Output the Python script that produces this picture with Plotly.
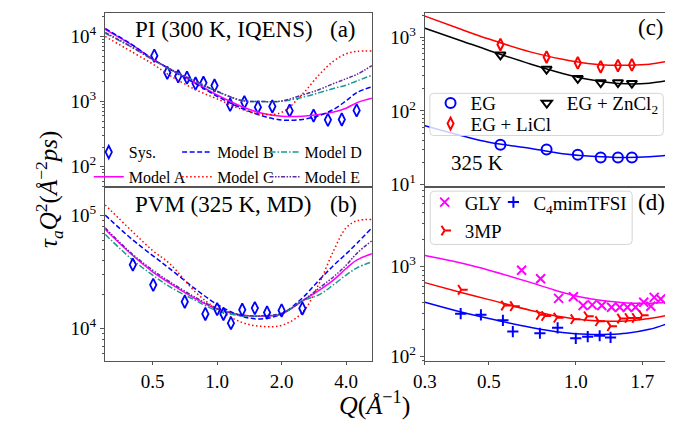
import math
import plotly.graph_objects as go

FONT = "Liberation Serif"
W, H = 673, 422

# ---------------- data ----------------
# (a) PI, 300 K, IQENS
q_sys_pi = [0.509, 0.585, 0.658, 0.723, 0.793, 0.863, 0.972, 1.15, 1.34, 1.55, 1.81, 2.18, 2.82, 3.29, 3.82, 4.48]
tau_sys_pi = [5060, 2770, 2440, 2330, 1890, 1940, 1760, 890, 975, 820, 840, 725, 608, 523, 530, 731]

q_model = [0.3, 0.4, 0.5, 0.6, 0.8, 1.0, 1.3, 1.6, 2.0, 2.5, 3.0, 3.5, 4.0, 4.5, 5.28]
pi_model_a = [12800, 7400, 4500, 3180, 1890, 1260, 840, 667, 594, 594, 630, 690, 790, 960, 1120]
pi_model_b = [13300, 7500, 4500, 3150, 1850, 1200, 790, 610, 520, 530, 610, 760, 1025, 1380, 1680]
pi_model_c = [10000, 5800, 3780, 2530, 1500, 1100, 760, 640, 680, 1300, 2600, 4200, 5400, 5900, 6000]
pi_model_d = [11200, 6800, 4400, 3150, 2000, 1420, 1035, 1000, 1010, 1160, 1370, 1590, 1780, 2080, 2530]
pi_model_e = [11500, 6900, 4450, 3200, 2020, 1440, 1040, 1000, 1020, 1260, 1530, 1890, 2240, 2620, 3570]

# (b) PVM, 325 K, MD
q_sys_pvm = [0.404, 0.503, 0.706, 0.881, 1.0, 1.07, 1.16, 1.31, 1.50, 1.71, 2.0, 2.5]
tau_sys_pvm = [36800, 24400, 17300, 13500, 14900, 13500, 11200, 14700, 15200, 13900, 14500, 15100]

pvm_model_a = [75300, 45000, 31800, 25300, 18200, 14900, 13200, 12900, 13500, 17600, 21900, 27000, 34000, 40500, 46000]
pvm_model_b = [101000, 61700, 44300, 34000, 22100, 16400, 12900, 12200, 13500, 18700, 27000, 36300, 45800, 57000, 78000]
pvm_model_c = [124000, 72800, 49000, 37600, 20700, 14900, 11400, 10500, 10700, 13900, 25300, 49000, 77800, 90000, 92000]
pvm_model_d = [68200, 41000, 29800, 23500, 17600, 14400, 13000, 12900, 13500, 17600, 20000, 24500, 29800, 34500, 38900]
pvm_model_e = [77800, 46000, 32900, 26000, 18700, 15100, 13200, 13000, 13700, 17600, 22900, 28800, 36300, 46500, 59800]

# (c) EG systems, 325 K
q_eg = [0.548, 0.792, 1.016, 1.22, 1.40, 1.565]
tau_eg = [34.9, 29.9, 25.4, 23.4, 23.4, 23.4]
tau_eg_zncl2 = [581, 371, 278, 244, 244, 239]
tau_eg_licl = [800, 541, 450, 398, 414, 423]

q_fit = [0.3, 0.4, 0.5, 0.7, 0.9, 1.1, 1.3, 1.5, 1.8, 2.08]
fit_eg = [63, 46.4, 37.6, 30.9, 26.3, 24.5, 23.7, 23.3, 23.9, 25.1]
fit_eg_zncl2 = [1330, 903, 665, 432, 324, 270, 244, 234, 239, 259]
fit_eg_licl = [1947, 1290, 949, 631, 504, 441, 419, 419, 432, 474]

# (d) GLY, C4mimTFSI, 3MP
q_gly = [0.649, 0.755, 0.872, 0.981, 1.06, 1.14, 1.23, 1.33, 1.42, 1.51, 1.61, 1.72, 1.82, 1.87, 1.97]
tau_gly = [904, 728, 440, 459, 366, 372, 366, 351, 351, 351, 351, 398, 360, 451, 433]
q_tfsi = [0.399, 0.469, 0.559, 0.605, 0.751, 0.865, 1.0, 1.10, 1.21, 1.32]
tau_tfsi = [297, 289, 251, 188, 180, 207, 158, 165, 169, 162]
q_3mp = [0.401, 0.566, 0.608, 0.749, 0.781, 0.861, 0.986, 1.096, 1.20, 1.32, 1.43, 1.52, 1.61, 1.70]
tau_3mp = [548, 366, 360, 289, 280, 268, 258, 278, 245, 216, 262, 266, 266, 285]

fit_gly = [1318, 1087, 904, 658, 512, 440, 408, 391, 389, 398]
fit_3mp = [658, 512, 426, 323, 273, 251, 245, 247, 262, 285]
fit_tfsi = [398, 310, 262, 209, 184, 175, 175, 180, 199, 231]

left_xticks = [0.5, 1.0, 2.0, 4.0]
left_xticklabels = ["0.5", "1.0", "2.0", "4.0"]
right_xticks = [0.3, 0.5, 1.0, 1.7]
right_xticklabels = ["0.3", "0.5", "1.0", "1.7"]

# ---------------- helpers ----------------
def px(x):
    return x / W

def py(y):
    return 1 - y / H

BLUE, RED, MAG, BLACK = "#0000ff", "#ff0000", "#ff00ff", "#000000"
TEAL, PURPLE = "#1a9a8a", "#5b2a9e"

fig = go.Figure()

models = [
    ("Model A", MAG, "solid", pi_model_a, pvm_model_a, "legend4"),
    ("Model B", BLUE, "5px,2.5px", pi_model_b, pvm_model_b, "legend2"),
    ("Model C", RED, "1.5px,2.5px", pi_model_c, pvm_model_c, "legend5"),
    ("Model D", TEAL, "6px,2px,1.5px,2px", pi_model_d, pvm_model_d, "legend3"),
    ("Model E", PURPLE, "4px,1.5px,1.5px,1.5px,1.5px,1.5px", pi_model_e, pvm_model_e, "legend6"),
]

fig.add_trace(go.Scatter(x=q_sys_pi, y=tau_sys_pi, mode="markers", name="Sys.",
                         marker=dict(symbol="diamond-tall-open", size=9, color=BLUE, line=dict(width=1.8, color=BLUE)),
                         xaxis="x", yaxis="y", legend="legend"))
for name, col, dash, ya, yb, lg in models:
    fig.add_trace(go.Scatter(x=q_model, y=ya, mode="lines", name=name, line=dict(color=col, dash=dash, width=1.5, shape="spline"),
                             xaxis="x", yaxis="y", legend=lg))
for name, col, dash, ya, yb, lg in models:
    fig.add_trace(go.Scatter(x=q_model, y=yb, mode="lines", name=name, showlegend=False,
                             line=dict(color=col, dash=dash, width=1.5, shape="spline"), xaxis="x2", yaxis="y2"))
fig.add_trace(go.Scatter(x=q_sys_pvm, y=tau_sys_pvm, mode="markers", name="Sys.", showlegend=False,
                         marker=dict(symbol="diamond-tall-open", size=9, color=BLUE, line=dict(width=1.8, color=BLUE)),
                         xaxis="x2", yaxis="y2"))

# (c)
for yv, col in [(fit_eg, BLUE), (fit_eg_zncl2, BLACK), (fit_eg_licl, RED)]:
    fig.add_trace(go.Scatter(x=q_fit, y=yv, mode="lines", showlegend=False, line=dict(color=col, width=1.5, shape="spline"),
                             xaxis="x3", yaxis="y3"))
fig.add_trace(go.Scatter(x=q_eg, y=tau_eg, mode="markers", name="EG",
                         marker=dict(symbol="circle-open", size=10, color=BLUE, line=dict(width=2, color=BLUE)),
                         xaxis="x3", yaxis="y3", legend="legend7"))
fig.add_trace(go.Scatter(x=q_eg, y=tau_eg_zncl2, mode="markers", name="EG + ZnCl<sub>2</sub>",
                         marker=dict(symbol="triangle-down-open", size=9, color=BLACK, line=dict(width=2, color=BLACK)),
                         xaxis="x3", yaxis="y3", legend="legend8"))
fig.add_trace(go.Scatter(x=q_eg, y=tau_eg_licl, mode="markers", name="EG + LiCl",
                         marker=dict(symbol="diamond-tall-open", size=8.5, color=RED, line=dict(width=2, color=RED)),
                         xaxis="x3", yaxis="y3", legend="legend9"))

# (d)
for yv, col in [(fit_gly, MAG), (fit_3mp, RED), (fit_tfsi, BLUE)]:
    fig.add_trace(go.Scatter(x=q_fit, y=yv, mode="lines", showlegend=False, line=dict(color=col, width=1.5, shape="spline"),
                             xaxis="x4", yaxis="y4"))
fig.add_trace(go.Scatter(x=q_gly, y=tau_gly, mode="markers", name="GLY",
                         marker=dict(symbol="x-thin-open", size=9, color=MAG, line=dict(width=2, color=MAG)),
                         xaxis="x4", yaxis="y4", legend="legend10"))
fig.add_trace(go.Scatter(x=q_tfsi, y=tau_tfsi, mode="markers", name="C<sub>4</sub>mimTFSI",
                         marker=dict(symbol="cross-thin-open", size=8, color=BLUE, line=dict(width=2, color=BLUE)),
                         xaxis="x4", yaxis="y4", legend="legend11"))
fig.add_trace(go.Scatter(x=q_3mp, y=tau_3mp, mode="markers", name="3MP",
                         marker=dict(symbol="y-right-open", size=8, color=RED, line=dict(width=2, color=RED)),
                         xaxis="x4", yaxis="y4", legend="legend12"))

# ---------------- axes ----------------
LINE = "#555555"
TICKFONT = dict(family=FONT, size=19, color="black")

def yaxis(domain, lo, hi, anchor):
    majors = [10 ** e for e in range(math.ceil(lo), math.floor(hi) + 1)]
    minors = [m * 10 ** e for e in range(math.floor(lo), math.ceil(hi)) for m in range(2, 10)]
    return dict(domain=domain, type="log", range=[lo, hi], anchor=anchor,
                tickmode="array", tickvals=majors,
                ticktext=["10<sup>%d</sup>" % round(math.log10(v)) for v in majors],
                ticks="outside", ticklen=4, tickwidth=1, tickcolor=LINE,
                minor=dict(tickmode="array", tickvals=minors, ticks="outside", ticklen=2, tickwidth=0.8, tickcolor=LINE),
                showline=True, mirror=True, linecolor=LINE, linewidth=1.3,
                showgrid=False, zeroline=False, tickfont=TICKFONT)

def xaxis(domain, lo, hi, anchor, tv=None, tt=None):
    d = dict(domain=domain, type="log", range=[math.log10(lo), math.log10(hi)], anchor=anchor,
             showline=True, mirror=True, linecolor=LINE, linewidth=1.3, showgrid=False, zeroline=False,
             tickfont=TICKFONT)
    if tv is None:
        d.update(showticklabels=False, ticks="")
    else:
        d.update(tickmode="array", tickvals=tv, ticktext=tt, ticks="outside", ticklen=3, tickcolor=LINE)
    return d

LX = [px(86.7), px(358.3)]
RX = [px(412.3), px(659.3)]
TOP = [py(182.7), py(5)]
BOT = [py(360), py(182.7)]

fig.update_layout(
    width=W, height=H, margin=dict(l=0, r=0, t=0, b=0),
    paper_bgcolor="white", plot_bgcolor="white",
    font=dict(family=FONT, color="black"),
    xaxis=xaxis(LX, 0.3, 5.28, "y"),
    yaxis=yaxis(TOP, 1.683, 4.362, "x"),
    xaxis2=xaxis(LX, 0.3, 5.28, "y2", left_xticks, left_xticklabels),
    yaxis2=yaxis(BOT, 3.713, 5.25, "x2"),
    xaxis3=xaxis(RX, 0.3, 2.08, "y3"),
    yaxis3=yaxis(TOP, 0.964, 3.333, "x3"),
    xaxis4=xaxis(RX, 0.3, 2.08, "y4", right_xticks, right_xticklabels),
    yaxis4=yaxis(BOT, 1.945, 3.879, "x4"),
)

# ---------------- legends (one entry each, laid out on the reference grid) ----------------
OFF = 40   # plotly legend text offset: itemwidth(30) + 2*itemGap(5)
def leg(tx, ty, size):
    return dict(x=px(tx - OFF), y=py(ty), xanchor="left", yanchor="middle", bgcolor="rgba(0,0,0,0)",
                borderwidth=0, itemwidth=30, font=dict(family=FONT, size=size, color="black"))

legend_spec = {
    "legend": (110, 147, 16), "legend2": (200, 147, 16), "legend3": (289, 147, 16),
    "legend4": (110, 172, 16), "legend5": (200, 172, 16), "legend6": (289, 172, 16),
    "legend7": (458, 97, 19), "legend8": (556, 97, 19), "legend9": (458, 118, 19),
    "legend10": (452, 198, 19), "legend11": (522, 198, 19), "legend12": (452, 227, 19),
}
fig.update_layout(**{k: leg(*v) for k, v in legend_spec.items()})

def rounded(x0, y0, x1, y1, r=4):
    rx, ry = r / W, r / H
    X0, X1 = px(x0), px(x1)
    Y0, Y1 = py(y0), py(y1)   # Y0 top, Y1 bottom
    return (f"M{X0 + rx},{Y0} L{X1 - rx},{Y0} Q{X1},{Y0} {X1},{Y0 - ry} "
            f"L{X1},{Y1 + ry} Q{X1},{Y1} {X1 - rx},{Y1} L{X0 + rx},{Y1} Q{X0},{Y1} {X0},{Y1 + ry} "
            f"L{X0},{Y0 - ry} Q{X0},{Y0} {X0 + rx},{Y0} Z")

for box in [(417.3, 87, 655, 130), (417.7, 186.7, 623.3, 241)]:
    fig.add_shape(type="path", path=rounded(*box), xref="paper", yref="paper",
                  line=dict(color="#d5d5d5", width=1), fillcolor="rgba(255,255,255,0.8)", layer="above")

# ---------------- annotations ----------------
def ann(text, x, y, size, xanchor="center", angle=0):
    fig.add_annotation(text=text, x=px(x), y=py(y), xref="paper", yref="paper", showarrow=False,
                       xanchor=xanchor, yanchor="middle", textangle=angle,
                       font=dict(family=FONT, size=size, color="black"))

ann("PI (300 K, IQENS)", 115, 22, 23, "left")
ann("(a)", 329, 22, 23)
ann("PVM (325 K, MD)", 115, 200, 23, "left")
ann("(b)", 329, 200, 23)
ann("(c)", 642, 20, 23)
ann("(d)", 643, 198, 23)
ann("325 K", 437, 158, 21, "left")
ann("<i>τ<sub>a</sub>Q</i><sup>2</sup>(<i>Å</i><sup>−2</sup><i>ps</i>)", 30, 185, 25, angle=-90)
ann("<i>Q</i>(<i>Å</i><sup>−1</sup>)", 361, 403, 26)

fig.write_html("out.html")
